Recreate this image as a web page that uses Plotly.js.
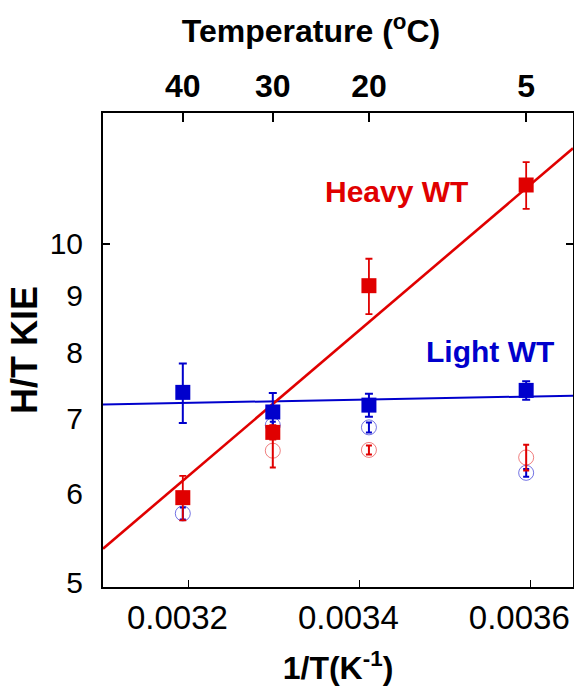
<!DOCTYPE html>
<html>
<head>
<meta charset="utf-8">
<script src="https://cdn.plot.ly/plotly-3.0.1.min.js"></script>
<style>html,body{margin:0;padding:0;background:#fff;}#chart{width:574px;height:686px;}</style>
</head>
<body>
<div id="chart"></div>
<script>
// ---- data ----
const tempLabels = ['40', '30', '20', '5'];          // top axis, °C
const invT = [0.0031934, 0.0032987, 0.0034112, 0.0035952]; // 1/T (K^-1)

const heavyKIE = [5.95, 6.80, 9.18, 11.28];
const heavyErr = [0.27, 0.10, 0.52, 0.54];
const lightKIE = [7.38, 7.09, 7.19, 7.41];
const lightErr = [0.45, 0.28, 0.17, 0.14];

const heavyOpen = [null, 6.55, 6.56, 6.46];
const heavyOpenErr = [0, 0.22, 0.06, 0.17];
const lightOpen = [5.76, 6.90, 6.87, 6.26];
const lightOpenErr = [0.07, 0.05, 0.07, 0.05];

const fitX = [0.00310, 0.00365];
const heavyFit = [5.36, 12.16];
const lightFit = [7.20, 7.33];

const xTickVals = [0.0032, 0.0034, 0.0036];
const xTickText = ['0.0032', '0.0034', '0.0036'];
const yTickVals = [5, 6, 7, 8, 9, 10];
const yTickText = ['5', '6', '7', '8', '9', '10'];

// ---- styling ----
const RED = '#E00000';
const BLUE = '#0000CC';
const FONT = 'Liberation Sans, Arial, sans-serif';
const xRange = [0.00310, 0.00365];
const yRange = [Math.log10(4.956), Math.log10(13.07)];

// fit lines on the base subplot (x, y); data points on the overlay (x2, y2) so they sit on top
const traces = [
  {x: fitX, y: lightFit, mode: 'lines', line: {color: BLUE, width: 2}, hoverinfo: 'skip'},
  {x: fitX, y: heavyFit, mode: 'lines', line: {color: RED, width: 2.6}, hoverinfo: 'skip'},
  {x: invT, y: lightOpen, xaxis: 'x2', yaxis: 'y2', mode: 'markers',
   marker: {symbol: 'circle-open', size: 15, color: 'rgba(0,0,204,0.55)', line: {width: 1, color: 'rgba(0,0,204,0.55)'}},
   error_y: {type: 'data', array: lightOpenErr, color: BLUE, thickness: 2, width: 3}},
  {x: invT, y: heavyOpen, xaxis: 'x2', yaxis: 'y2', mode: 'markers',
   marker: {symbol: 'circle-open', size: 15, color: 'rgba(224,0,0,0.5)', line: {width: 1, color: 'rgba(224,0,0,0.5)'}},
   error_y: {type: 'data', array: heavyOpenErr, color: RED, thickness: 2, width: 3}},
  {x: invT, y: lightKIE, xaxis: 'x2', yaxis: 'y2', mode: 'markers',
   marker: {symbol: 'square', size: 15, color: BLUE},
   error_y: {type: 'data', array: lightErr, color: BLUE, thickness: 2, width: 4}},
  {x: invT, y: heavyKIE, xaxis: 'x2', yaxis: 'y2', mode: 'markers',
   marker: {symbol: 'square', size: 15, color: RED},
   error_y: {type: 'data', array: heavyErr, color: RED, thickness: 1.8, width: 3.5}}
];

const layout = {
  width: 574, height: 686,
  margin: {l: 103, r: 1, t: 113, b: 99, pad: 0},
  paper_bgcolor: '#fff', plot_bgcolor: '#fff',
  showlegend: false,
  font: {family: FONT, color: '#000'},
  title: {
    text: 'Temperature (<sup>o</sup>C)',
    font: {family: FONT, size: 32, weight: 'bold', color: '#000'},
    xref: 'paper', x: 0.4426, xanchor: 'center',
    yref: 'container', y: 0.955, yanchor: 'middle'
  },
  xaxis: {
    range: xRange, tickvals: xTickVals, ticktext: xTickText,
    ticks: 'inside', ticklen: 7, tickwidth: 1.5, tickcolor: '#000',
    showline: true, linewidth: 2, linecolor: '#000', mirror: true,
    showgrid: false, zeroline: false,
    tickfont: {family: FONT, size: 33, color: '#000'},
    ticklabelshift: -11, ticklabelstandoff: 0,
    title: {text: '1/T(K<sup>-1</sup>)', font: {family: FONT, size: 32, weight: 'bold', color: '#000'}, standoff: 24}
  },
  xaxis2: {
    overlaying: 'x', side: 'top', anchor: 'y2',
    range: xRange, tickvals: invT, ticktext: tempLabels,
    ticks: 'inside', ticklen: 9, tickwidth: 2, tickcolor: '#000',
    showline: false, showgrid: false, zeroline: false,
    tickfont: {family: FONT, size: 32, weight: 'bold', color: '#000'},
    ticklabelstandoff: 9
  },
  yaxis: {
    type: 'log', range: yRange, tickvals: yTickVals, ticktext: yTickText,
    ticks: '', showline: true, linewidth: 2, linecolor: '#000', mirror: true,
    showgrid: false, zeroline: false,
    tickfont: {family: FONT, size: 30, color: '#000'},
    ticklabelstandoff: 12,
    title: {text: 'H/T KIE', font: {family: FONT, size: 36, weight: 'bold', color: '#000'}, standoff: 1}
  },
  yaxis2: {
    overlaying: 'y', side: 'left', anchor: 'x2', type: 'log', range: yRange,
    tickvals: [10], ticks: 'inside', ticklen: 7, tickwidth: 1.5, tickcolor: '#000',
    showticklabels: false, showline: true, linewidth: 2, linecolor: '#000', mirror: 'ticks',
    showgrid: false, zeroline: false
  },
  annotations: [
    {text: 'Heavy WT', xref: 'paper', yref: 'paper', x: 0.625, y: 0.8354, xanchor: 'center', yanchor: 'middle',
     showarrow: false, font: {family: FONT, size: 30, weight: 'bold', color: RED}},
    {text: 'Light WT', xref: 'paper', yref: 'paper', x: 0.8234, y: 0.4958, xanchor: 'center', yanchor: 'middle',
     showarrow: false, font: {family: FONT, size: 30, weight: 'bold', color: BLUE}}
  ]
};

Plotly.newPlot('chart', traces, layout, {displayModeBar: false, staticPlot: true});
</script>
</body>
</html>
